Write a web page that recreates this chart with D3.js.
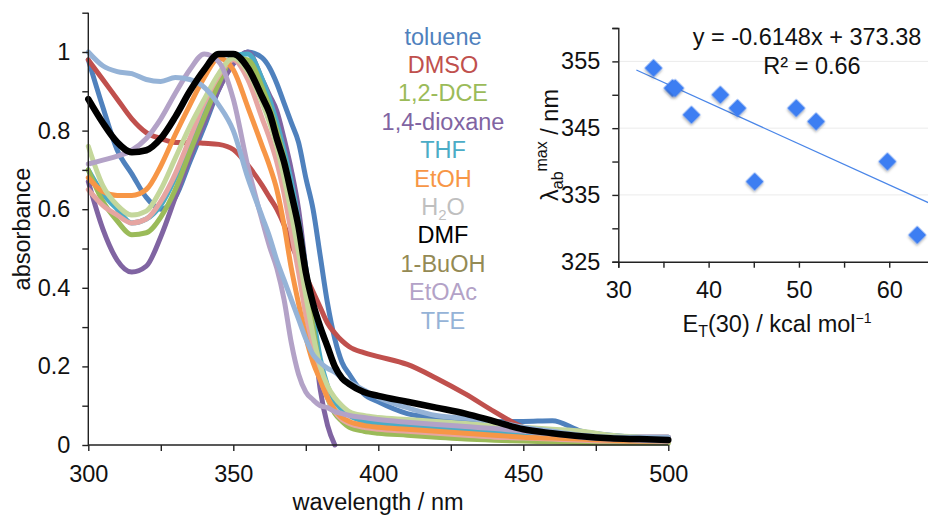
<!DOCTYPE html>
<html>
<head>
<meta charset="utf-8">
<title>Absorbance spectra in solvents</title>
<script src="https://d3js.org/d3.v7.min.js"></script>
<style>
  body { margin: 0; background: #fff; }
  svg { font-family: "Liberation Sans", Arial, Helvetica, sans-serif; }
  .axis path, .axis line { stroke: #222; stroke-width: 1.4; }
  .axis text { font-size: 23.5px; fill: #111; font-family: "Liberation Sans", Arial, sans-serif; }
  .spec { fill: none; stroke-linejoin: round; stroke-linecap: round; }
</style>
</head>
<body>
<script>

// wavelength grid (nm)
var wavelengths = [300,305,310,315,320,325,330,335,340,345,350,355,360,362.5,365,367.5,370,372.5,375,377.5,380,382.5,385,387.5,390,395,400,410,420,430,440,450,460,470,480,490,500];

// absorbance, one array per solvent
var toluene  = [0.98,0.86,0.75,0.69,0.63,0.60,0.63,0.72,0.81,0.905,0.97,1.0,0.985,0.96,0.92,0.87,0.82,0.77,0.68,0.60,0.48,0.36,0.27,0.21,0.18,0.13,0.11,0.08,0.07,0.065,0.06,0.06,0.062,0.035,0.025,0.02,0.02];
var dmso     = [0.98,0.93,0.88,0.83,0.795,0.78,0.77,0.77,0.768,0.765,0.752,0.712,0.66,0.63,0.60,0.56,0.51,0.47,0.43,0.39,0.35,0.31,0.285,0.265,0.25,0.235,0.225,0.205,0.17,0.13,0.085,0.045,0.03,0.025,0.02,0.02,0.02];
var dce      = [0.70,0.62,0.57,0.535,0.54,0.58,0.65,0.745,0.835,0.92,0.985,0.98,0.91,0.86,0.80,0.73,0.64,0.54,0.42,0.30,0.19,0.12,0.08,0.06,0.045,0.035,0.03,0.025,0.02,0.015,0.012,0.01,0.008,0.006,0.005,0.005,0.005];
var dioxane  = [0.67,0.55,0.47,0.44,0.455,0.53,0.63,0.73,0.82,0.905,0.97,1.0,0.93,0.89,0.85,0.78,0.70,0.60,0.45,0.30,0.14,0.05,0.0,null,null,null,null,null,null,null,null,null,null,null,null,null,null];
var thf      = [0.70,0.64,0.60,0.565,0.575,0.61,0.68,0.77,0.86,0.93,0.99,0.995,0.93,0.88,0.82,0.75,0.67,0.57,0.45,0.33,0.22,0.15,0.11,0.09,0.075,0.06,0.055,0.05,0.045,0.04,0.035,0.03,0.025,0.02,0.02,0.015,0.015];
var etoh     = [0.68,0.645,0.635,0.635,0.65,0.71,0.79,0.865,0.935,0.985,0.955,0.86,0.76,0.71,0.65,0.56,0.45,0.36,0.275,0.21,0.165,0.12,0.09,0.07,0.06,0.05,0.045,0.04,0.035,0.03,0.025,0.02,0.018,0.015,0.012,0.01,0.01];
var water    = [0.65,0.61,0.585,0.565,0.575,0.62,0.69,0.78,0.87,0.94,0.98,0.93,0.83,0.78,0.72,0.64,0.54,0.44,0.33,0.24,0.17,0.12,0.085,0.065,0.055,0.045,0.04,0.035,0.03,0.025,0.02,0.018,0.015,0.012,0.01,0.01,0.01];
var dmf      = [0.88,0.82,0.77,0.745,0.75,0.78,0.835,0.90,0.955,0.995,0.995,0.96,0.885,0.845,0.78,0.72,0.64,0.555,0.44,0.36,0.30,0.25,0.20,0.17,0.155,0.135,0.125,0.11,0.095,0.08,0.06,0.04,0.03,0.022,0.017,0.015,0.013];
var buoh     = [0.76,0.66,0.61,0.585,0.595,0.65,0.73,0.81,0.88,0.945,0.985,0.95,0.87,0.82,0.76,0.68,0.59,0.49,0.38,0.28,0.20,0.15,0.12,0.10,0.085,0.075,0.07,0.065,0.06,0.055,0.05,0.045,0.04,0.035,0.025,0.02,0.015];
var etoac    = [0.715,0.725,0.735,0.75,0.78,0.83,0.895,0.955,0.995,0.975,0.88,0.71,0.57,0.505,0.45,0.37,0.26,0.18,0.135,0.115,0.10,0.095,0.085,0.08,0.075,0.07,0.065,0.058,0.052,0.047,0.042,0.035,0.028,0.02,0.015,0.012,0.01];
var tfe      = [1.0,0.965,0.95,0.945,0.93,0.925,0.935,0.93,0.91,0.865,0.80,0.68,0.58,0.53,0.47,0.42,0.37,0.32,0.27,0.23,0.21,0.195,0.185,0.17,0.16,0.14,0.12,0.095,0.075,0.068,0.06,0.045,0.035,0.025,0.02,0.02,0.02];

// legend
var legendNames  = ["toluene","DMSO","1,2-DCE","1,4-dioxane","THF","EtOH","H2O","DMF","1-BuOH","EtOAc","TFE"];
var legendColors = ["#4f81bd","#c0504d","#9bbb59","#8064a2","#4bacc6","#f79646","#bfbfbf","#000000","#948a54","#b3a2c7","#95b3d7"];

// inset: E_T(30) vs lambda max
var et30   = [33.9, 36.0, 36.3, 38.1, 41.3, 43.2, 45.1, 49.7, 51.9, 59.8, 63.1];
var lamMax = [354, 351, 351, 347, 350, 348, 337, 348, 346, 340, 329];
var slope = -0.6148, intercept = 373.38;

var W = 928, H = 521, FS = "23.5px", SUB = "16px";
var svg = d3.select("body").append("svg").attr("width", W).attr("height", H);

// ---------- main chart ----------
var x = d3.scaleLinear().domain([300, 500]).range([88.3, 668.3]);
var y = d3.scaleLinear().domain([0, 1.1]).range([445, 12.7]);

var series = [
  {v: toluene, c: "#4f81bd", w: 5},
  {v: dmso,    c: "#c0504d", w: 5},
  {v: dioxane, c: "#8064a2", w: 5},
  {v: thf,     c: "#4bacc6", w: 5},
  {v: dce,     c: "#9bbb59", w: 5},
  {v: water,   c: "#e6a5a1", w: 5},
  {v: etoh,    c: "#f79646", w: 5},
  {v: buoh,    c: "#c4d79b", w: 5},
  {v: etoac,   c: "#b3a2c7", w: 5},
  {v: tfe,     c: "#95b3d7", w: 5},
  {v: dmf,     c: "#000000", w: 6.5}
];

var line = d3.line()
  .defined(function(d) { return d[1] != null; })
  .x(function(d) { return x(d[0]); })
  .y(function(d) { return y(d[1]); })
  .curve(d3.curveMonotoneX);

svg.append("g").selectAll("path")
  .data(series)
  .enter().append("path")
  .attr("class", "spec")
  .attr("stroke", function(d) { return d.c; })
  .attr("stroke-width", function(d) { return d.w; })
  .attr("d", function(d) { return line(wavelengths.map(function(w, i) { return [w, d.v[i]]; })); });

var xAxis = d3.axisBottom(x)
  .tickValues(d3.range(300, 501, 25))
  .tickSize(6).tickPadding(14)
  .tickFormat(function(d) { return d % 50 === 0 ? d : ""; });
svg.append("g").attr("class", "axis").attr("transform", "translate(0,445)").call(xAxis)
  .call(function(g) { g.select(".domain").attr("d", "M88.3,0H668.3"); });

var yAxis = d3.axisLeft(y)
  .tickValues(d3.range(0, 11).map(function(i) { return i / 10; }).concat([1.1]))
  .tickSize(6).tickPadding(12)
  .tickFormat(function(d) { var k = Math.round(d * 10); return (k % 2 === 0 && k <= 10) ? d3.format("")(k / 10) : ""; });
svg.append("g").attr("class", "axis").attr("transform", "translate(88.3,0)").call(yAxis)
  .call(function(g) { g.select(".domain").attr("d", "M0,12.7V445"); });

svg.append("text")
  .attr("transform", "translate(30,229) rotate(-90)")
  .attr("text-anchor", "middle")
  .style("font-size", FS).attr("fill", "#111")
  .text("absorbance");

svg.append("text")
  .attr("x", 378).attr("y", 510)
  .attr("text-anchor", "middle")
  .style("font-size", FS).attr("fill", "#111")
  .text("wavelength / nm");

// legend
var leg = svg.append("g").selectAll("text")
  .data(legendNames)
  .enter().append("text")
  .attr("x", 443)
  .attr("y", function(d, i) { return 44.5 + i * 28.4; })
  .attr("text-anchor", "middle")
  .style("font-size", FS)
  .attr("fill", function(d, i) { return legendColors[i]; });
leg.each(function(d) {
  var t = d3.select(this);
  if (d === "H2O") {
    t.append("tspan").text("H");
    t.append("tspan").attr("dy", 5).style("font-size", "15px").text("2");
    t.append("tspan").attr("dy", -5).text("O");
  } else {
    t.text(d);
  }
});

// ---------- inset ----------
var ix = d3.scaleLinear().domain([30, 65]).range([618.3, 934.4]);
var iy = d3.scaleLinear().domain([325, 360]).range([261.7, 28]);

svg.append("g").selectAll("line")
  .data([335, 345, 355])
  .enter().append("line")
  .attr("x1", ix(30)).attr("x2", ix(65))
  .attr("y1", function(d) { return iy(d); }).attr("y2", function(d) { return iy(d); })
  .attr("stroke", "#ebebeb").attr("stroke-width", 1);

var ixAxis = d3.axisBottom(ix)
  .tickValues(d3.range(30, 66, 5))
  .tickSize(6).tickPadding(13.5)
  .tickFormat(function(d) { return d % 10 === 0 ? d : ""; });
svg.append("g").attr("class", "axis").attr("transform", "translate(0," + iy(325) + ")").call(ixAxis);

var iyAxis = d3.axisLeft(iy)
  .tickValues(d3.range(325, 361, 5))
  .tickSize(6).tickPadding(12)
  .tickFormat(function(d) { return (d - 325) % 10 === 0 ? d : ""; });
svg.append("g").attr("class", "axis").attr("transform", "translate(" + ix(30) + ",0)").call(iyAxis);

// trendline
svg.append("line")
  .attr("x1", ix(32)).attr("y1", iy(slope * 32 + intercept))
  .attr("x2", ix(65)).attr("y2", iy(slope * 65 + intercept))
  .attr("stroke", "#4a86e8").attr("stroke-width", 1.3);

var defs = svg.append("defs");
var f = defs.append("filter").attr("id", "shadow").attr("x", "-50%").attr("y", "-50%").attr("width", "200%").attr("height", "200%");
f.append("feDropShadow").attr("dx", 1.2).attr("dy", 1.5).attr("stdDeviation", 1.2).attr("flood-color", "#000").attr("flood-opacity", 0.3);

var diamond = d3.symbol().type(d3.symbolSquare).size(165);
svg.append("g").selectAll("path")
  .data(et30.map(function(d, i) { return [d, lamMax[i]]; }))
  .enter().append("path")
  .attr("d", diamond)
  .attr("transform", function(d) { return "translate(" + ix(d[0]) + "," + iy(d[1]) + ") rotate(45)"; })
  .attr("fill", "#3d7ef2")
  .attr("filter", "url(#shadow)");

svg.append("text")
  .attr("x", 807).attr("y", 45)
  .attr("text-anchor", "middle")
  .style("font-size", FS).attr("fill", "#111")
  .text("y = -0.6148x + 373.38");
svg.append("text")
  .attr("x", 812).attr("y", 74)
  .attr("text-anchor", "middle")
  .style("font-size", FS).attr("fill", "#111")
  .text("R\u00b2 = 0.66");

// inset axis titles
var ylab = svg.append("text")
  .attr("transform", "translate(558,145) rotate(-90)")
  .attr("text-anchor", "middle")
  .style("font-size", FS).attr("fill", "#111");
ylab.append("tspan").text("\u03bb");
ylab.append("tspan").attr("dy", 5).style("font-size", SUB).text("ab");
ylab.append("tspan").attr("dy", -16).style("font-size", SUB).text("max");
ylab.append("tspan").attr("dy", 11).text(" / nm");

var xlab = svg.append("text")
  .attr("x", 777).attr("y", 332)
  .attr("text-anchor", "middle")
  .style("font-size", FS).attr("fill", "#111");
xlab.append("tspan").text("E");
xlab.append("tspan").attr("dy", 5).style("font-size", SUB).text("T");
xlab.append("tspan").attr("dy", -5).text("(30) / kcal mol");
xlab.append("tspan").attr("dy", -9).style("font-size", "14px").text("\u22121");

</script>
</body>
</html>
